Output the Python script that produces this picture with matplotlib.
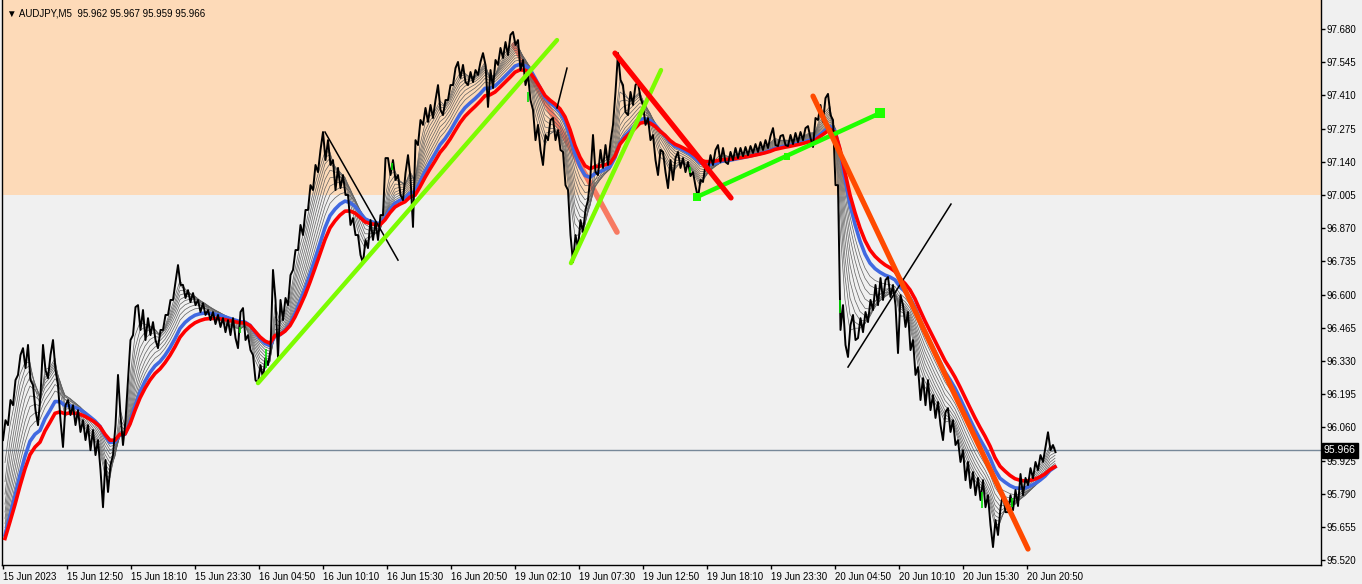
import matplotlib
matplotlib.use('Agg')
import matplotlib.pyplot as plt
import numpy as np
import pandas as pd

# ---------------------------------------------------------------------------
# data (AUDJPY M5, 15-20 Jun 2023)
# ---------------------------------------------------------------------------
symbol = 'AUDJPY,M5'
last_ohlc = [95.962, 95.967, 95.959, 95.966]
bid = 95.966

# price in groups of 5 M5 bars: high / low of each group
group_high = [
    96.089, 96.171, 96.252, 96.354, 96.382, 96.395, 96.232, 96.191, 96.395, 96.354,
    96.415, 96.232, 96.150, 96.171, 96.150, 96.130, 96.089, 96.069, 96.049, 96.008,
    95.927, 95.906, 96.069, 96.273, 96.089, 96.415, 96.549, 96.557, 96.537, 96.504,
    96.488, 96.456, 96.517, 96.578, 96.651, 96.720, 96.639, 96.618, 96.606, 96.578,
    96.565, 96.537, 96.529, 96.517, 96.504, 96.496, 96.504, 96.529, 96.545, 96.435,
    96.354, 96.313, 96.342, 96.374, 96.700, 96.578, 96.586, 96.679, 96.781, 96.883,
    96.944, 97.045, 97.127, 97.188, 97.261, 97.228, 97.147, 97.115, 97.086, 97.005,
    96.911, 96.842, 96.822, 96.903, 96.895, 96.923, 97.155, 97.155, 97.147, 97.086,
    97.094, 97.167, 97.228, 97.310, 97.359, 97.371, 97.391, 97.452, 97.391, 97.452,
    97.521, 97.546, 97.534, 97.505, 97.513, 97.546, 97.582, 97.513, 97.554, 97.603,
    97.627, 97.656, 97.668, 97.635, 97.554, 97.493, 97.351, 97.290, 97.249, 97.310,
    97.318, 97.269, 97.180, 97.025, 96.842, 96.903, 96.944, 97.086, 97.249, 97.188,
    97.208, 97.220, 97.424, 97.582, 97.452, 97.424, 97.452, 97.464, 97.371, 97.318,
    97.249, 97.188, 97.180, 97.147, 97.155, 97.180, 97.155, 97.139, 97.098, 97.066,
    97.127, 97.167, 97.188, 97.208, 97.196, 97.180, 97.196, 97.196, 97.200, 97.204,
    97.212, 97.220, 97.228, 97.245, 97.277, 97.245, 97.249, 97.249, 97.257, 97.261,
    97.277, 97.285, 97.318, 97.371, 97.399, 97.416, 97.310, 97.045, 96.557, 96.476,
    96.517, 96.504, 96.529, 96.578, 96.639, 96.667, 96.659, 96.671, 96.639, 96.598,
    96.557, 96.529, 96.415, 96.305, 96.260, 96.252, 96.191, 96.163, 96.122, 96.138,
    96.089, 96.008, 95.967, 95.919, 95.878, 95.854, 95.845, 95.784, 95.683, 95.731,
    95.792, 95.784, 95.805, 95.870, 95.854, 95.894, 95.919, 95.947, 95.980, 96.040,
    95.988,
]
group_low = [
    96.008, 96.069, 96.150, 96.273, 96.301, 96.252, 96.130, 96.069, 96.293, 96.260,
    96.293, 96.089, 95.980, 96.110, 96.069, 96.041, 96.008, 95.967, 95.947, 95.886,
    95.735, 95.797, 95.947, 96.110, 95.988, 96.252, 96.435, 96.456, 96.415, 96.435,
    96.415, 96.382, 96.456, 96.517, 96.578, 96.639, 96.586, 96.569, 96.557, 96.529,
    96.517, 96.496, 96.480, 96.468, 96.447, 96.435, 96.423, 96.382, 96.415, 96.374,
    96.252, 96.240, 96.260, 96.313, 96.578, 96.346, 96.496, 96.557, 96.700, 96.781,
    96.842, 96.944, 97.025, 97.098, 97.147, 97.127, 97.025, 97.033, 97.005, 96.883,
    96.842, 96.761, 96.728, 96.789, 96.822, 96.822, 96.923, 97.086, 97.066, 97.005,
    96.984, 97.074, 96.875, 97.208, 97.290, 97.302, 97.318, 97.351, 97.330, 97.391,
    97.452, 97.481, 97.464, 97.452, 97.464, 97.493, 97.534, 97.363, 97.440, 97.534,
    97.562, 97.574, 97.615, 97.513, 97.452, 97.391, 97.228, 97.188, 97.127, 97.228,
    97.228, 97.188, 97.045, 96.842, 96.732, 96.789, 96.854, 96.984, 97.098, 97.086,
    97.115, 97.127, 97.290, 97.473, 97.342, 97.330, 97.371, 97.399, 97.290, 97.228,
    97.147, 97.086, 97.098, 97.033, 97.066, 97.115, 97.098, 97.082, 97.041, 96.993,
    97.058, 97.106, 97.127, 97.139, 97.139, 97.131, 97.147, 97.155, 97.163, 97.167,
    97.176, 97.180, 97.188, 97.196, 97.208, 97.204, 97.208, 97.204, 97.212, 97.220,
    97.228, 97.237, 97.200, 97.310, 97.302, 97.330, 97.045, 96.456, 96.395, 96.346,
    96.415, 96.423, 96.447, 96.488, 96.537, 96.557, 96.578, 96.590, 96.557, 96.362,
    96.468, 96.374, 96.273, 96.171, 96.150, 96.130, 96.098, 96.069, 96.008, 96.041,
    95.988, 95.919, 95.845, 95.813, 95.784, 95.764, 95.735, 95.662, 95.573, 95.622,
    95.715, 95.715, 95.723, 95.740, 95.784, 95.825, 95.853, 95.886, 95.919, 95.967,
    95.959,
]
bars_per_group = 5

# single bars painted green by the indicator: (bar, low, high)
green_bars = [(237, 96.443, 96.468), (263, 96.300, 96.380), (389, 97.106, 97.135),
              (525, 97.383, 97.424), (687, 97.094, 97.119), (837, 96.525, 96.578),
              (979, 95.731, 95.797), (1009, 95.735, 95.772)]

# moving average ribbon (spans in groups of 5 bars); MT4 history starts low
ema_seed = 95.540
fan_spans = [1.7, 2.4, 3.1, 3.9, 4.8, 5.8, 6.9, 8.1, 9.4]
blue_span = 11.5
red_span = 14

zone_low = 97.005  # shaded resistance zone up to the top

price_ticks = [95.520, 95.655, 95.790, 95.925, 96.060, 96.195, 96.330, 96.465,
               96.600, 96.735, 96.870, 97.005, 97.140, 97.275, 97.410, 97.545, 97.680]
time_labels = ['15 Jun 2023', '15 Jun 12:50', '15 Jun 18:10', '15 Jun 23:30',
               '16 Jun 04:50', '16 Jun 10:10', '16 Jun 15:30', '16 Jun 20:50',
               '19 Jun 02:10', '19 Jun 07:30', '19 Jun 12:50', '19 Jun 18:10',
               '19 Jun 23:30', '20 Jun 04:50', '20 Jun 10:10', '20 Jun 15:30',
               '20 Jun 20:50']
bars_per_label = 64

# drawn objects: (bar0, price0, bar1, price1)
green_trends = [(255, 96.240, 554, 97.635), (568, 96.728, 658, 97.513)]
lime_trend = (694, 96.997, 877, 97.338)
lime_marks = [(694, 96.997), (784, 97.163), (877, 97.338)]
red_trend = (612, 97.582, 728, 96.993)
salmon_trend = (511, 97.615, 614, 96.854)
orange_trend = (810, 97.407, 1025, 95.565)
black_lines = [(322, 97.261, 395, 96.740), (554, 97.359, 564, 97.521),
               (845, 96.305, 948, 96.968)]

# ---------------------------------------------------------------------------
hi = np.array(group_high)
lo = np.array(group_low)
mid = (hi + lo) / 2
n = len(hi)
gx = np.arange(n) * bars_per_group

# zigzag path through each group's high and low
zx, zy = [], []
for i in range(n):
    up = i + 1 < n and mid[i + 1] > mid[i]
    first, second = (lo[i], hi[i]) if up else (hi[i], lo[i])
    zx += [gx[i], gx[i] + 2.5]
    zy += [first, second]


def ema(span):
    s = pd.Series([ema_seed] + list(mid))
    return s.ewm(span=span, adjust=False).mean().values[1:]


AXIS_FONT = ['Liberation Sans Narrow', 'DejaVu Sans Condensed', 'Liberation Sans']

BG = '#F0F0F0'
fig = plt.figure(figsize=(13.62, 5.84), dpi=100, facecolor=BG)
ax = fig.add_axes([2 / 1362, 19 / 584, 1319 / 1362, 565 / 584])
ax.set_facecolor(BG)
ax.set_xlim(-1, 1318)
ax.set_ylim(95.500, 97.798)

ax.axhspan(zone_low, 98.5, color='#FDDAB8', zorder=0, lw=0)
ax.axhline(bid, color='#778899', lw=1, zorder=1)

ax.plot(salmon_trend[::2], salmon_trend[1::2], color='#F77A62', lw=4,
        solid_capstyle='round', zorder=1.5)

for sp in fan_spans:
    ax.plot(gx + 2, ema(sp), color='#606060', lw=0.5, zorder=2)
ax.plot(gx + 2, ema(blue_span), color='#4169E1', lw=2.6, zorder=3)
ax.plot(gx + 2, ema(red_span), color='#FF0000', lw=2.6, zorder=3.1)

ax.plot(zx, zy, color='black', lw=1.4, zorder=4)
ax.vlines([b[0] for b in green_bars], [b[1] for b in green_bars],
          [b[2] for b in green_bars], color='#00E000', lw=1.2, zorder=4.1)

for seg in black_lines:
    ax.plot(seg[::2], seg[1::2], color='black', lw=1.1, zorder=5)
for seg in green_trends:
    ax.plot(seg[::2], seg[1::2], color='#7CFC00', lw=3.2,
            solid_capstyle='round', zorder=5)
ax.plot(lime_trend[::2], lime_trend[1::2], color='#1EFF00', lw=3.2, zorder=5)
ax.scatter([m[0] for m in lime_marks], [m[1] for m in lime_marks],
           marker='s', s=[30, 25, 55], color='#1EFF00', zorder=5.1, lw=0)
ax.plot(red_trend[::2], red_trend[1::2], color='#FF0000', lw=3.8,
        solid_capstyle='round', zorder=5)
ax.plot(orange_trend[::2], orange_trend[1::2], color='#FF4A00', lw=3.8,
        solid_capstyle='round', zorder=5)

# axes: price scale on the right, time labels below
ax.spines['top'].set_visible(False)
for side in ['left', 'right', 'bottom']:
    ax.spines[side].set_color('black')
    ax.spines[side].set_linewidth(1)
ax.yaxis.tick_right()
ax.set_yticks(price_ticks)
ax.set_yticklabels([f'{p:.3f}' for p in price_ticks])
ax.set_xticks([k * bars_per_label for k in range(len(time_labels))])
ax.set_xticklabels(time_labels)
ax.tick_params(axis='both', direction='out', length=3, width=1, color='black',
               labelsize=7, pad=1)
ax.tick_params(axis='x', pad=2)
for lab in ax.get_xticklabels() + ax.get_yticklabels():
    lab.set_fontfamily(AXIS_FONT)
for lab in ax.get_xticklabels():
    lab.set_horizontalalignment('left')

ax.annotate(f'{bid:.3f}', xy=(1.0, bid), xycoords=('axes fraction', 'data'),
            xytext=(2, 0), textcoords='offset points', va='center', ha='left',
            fontsize=7.5, color='white', family=AXIS_FONT,
            bbox=dict(boxstyle='square,pad=0.2', fc='black', ec='black'))

ax.text(0.004, 0.985, '\u25BC ' + symbol + '  ' + ' '.join(f'{v:.3f}' for v in last_ohlc),
        transform=ax.transAxes, va='top', ha='left', fontsize=7, color='black',
        family=AXIS_FONT + ['DejaVu Sans'])

fig.savefig('out.png', dpi=100, facecolor=BG)
